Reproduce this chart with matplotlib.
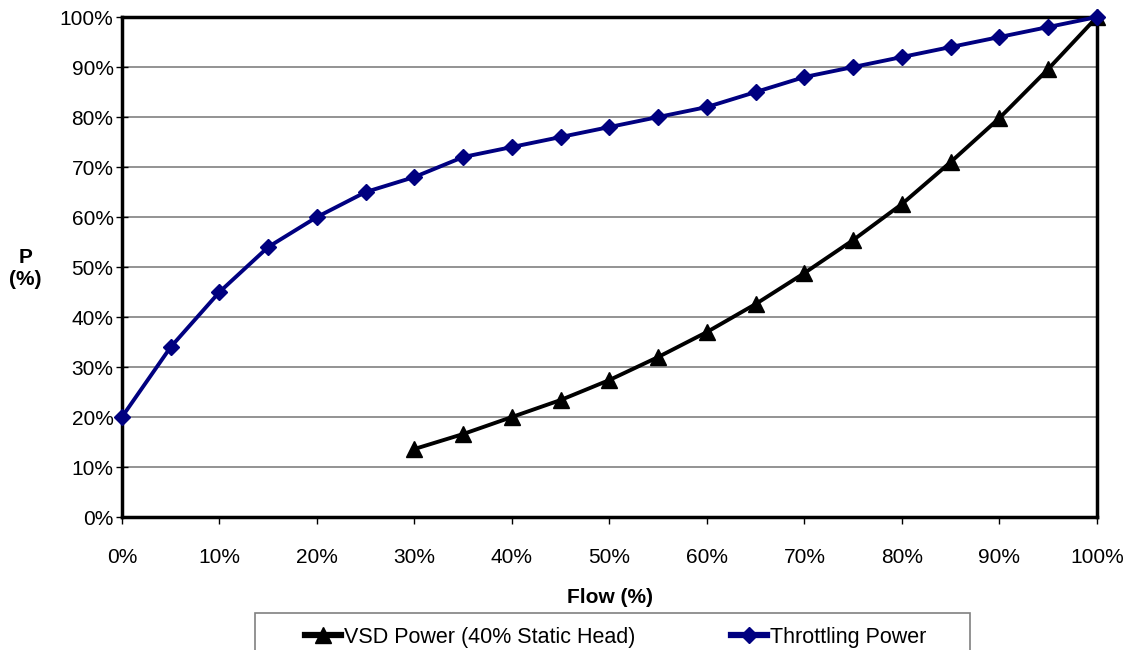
import matplotlib.pyplot as plt
from matplotlib.patches import Rectangle
from matplotlib.ticker import FuncFormatter, MultipleLocator

plt.rcParams['font.family'] = ['Liberation Sans', 'DejaVu Sans']

# data
flow = [0, 5, 10, 15, 20, 25, 30, 35, 40, 45, 50, 55, 60, 65, 70, 75, 80, 85, 90, 95, 100]
throttling = [20, 34, 45, 54, 60, 65, 68, 72, 74, 76, 78, 80, 82, 85, 88, 90, 92, 94, 96, 98, 100]
vsd_flow = [30, 35, 40, 45, 50, 55, 60, 65, 70, 75, 80, 85, 90, 95, 100]
vsd = [13.6, 16.6, 20, 23.4, 27.4, 32, 37, 42.6, 48.8, 55.4, 62.6, 71, 79.8, 89.6, 100]

fig = plt.figure(figsize=(11.26, 6.5), dpi=100)
ax = fig.add_axes([0.1083, 0.2046, 0.8659, 0.7692])

ax.plot(vsd_flow, vsd, color='black', lw=2.8, marker='^', ms=12,
        label='VSD Power (40% Static Head)', clip_on=False, zorder=3)
ax.plot(flow, throttling, color='#000080', lw=2.8, marker='D', ms=8.5,
        label='Throttling Power', clip_on=False, zorder=4)

ax.set_xlim(0, 100)
ax.set_ylim(0, 100)
ax.xaxis.set_major_locator(MultipleLocator(10))
ax.yaxis.set_major_locator(MultipleLocator(10))
pct = FuncFormatter(lambda v, p: f'{v:.0f}%')
ax.xaxis.set_major_formatter(pct)
ax.yaxis.set_major_formatter(pct)
ax.tick_params(labelsize=15, width=1, color='black')
ax.tick_params(axis='x', length=5, direction='out', pad=17)
ax.tick_params(axis='y', length=8, direction='inout', pad=2)
ax.grid(axis='y', color='#808080', lw=1.2)
ax.set_axisbelow(True)
for s in ax.spines.values():
    s.set_linewidth(2.5)
    s.set_color('black')

fig.text(0.542, 0.0815, 'Flow (%)', fontsize=15, fontweight='bold',
         ha='center', va='center')
fig.text(0.0225, 0.587, 'P\n(%)', fontsize=15, fontweight='bold',
         ha='center', va='center', linespacing=1.25)

# legend box runs off the bottom edge, like the source
fig.patches.append(Rectangle((0.2265, -0.05), 0.635, 0.1069, transform=fig.transFigure,
                             fill=False, edgecolor='#808080', lw=1.2))
leg = fig.legend(loc='center left', bbox_to_anchor=(0.2705, 0.02), ncol=2,
                 fontsize=15.5, frameon=False,
                 handlelength=1.7, handletextpad=0.15, columnspacing=4.4,
                 borderpad=0, borderaxespad=0)
for h in leg.legend_handles:
    h.set_linewidth(4.5)

fig.savefig('out.png', dpi=100)
